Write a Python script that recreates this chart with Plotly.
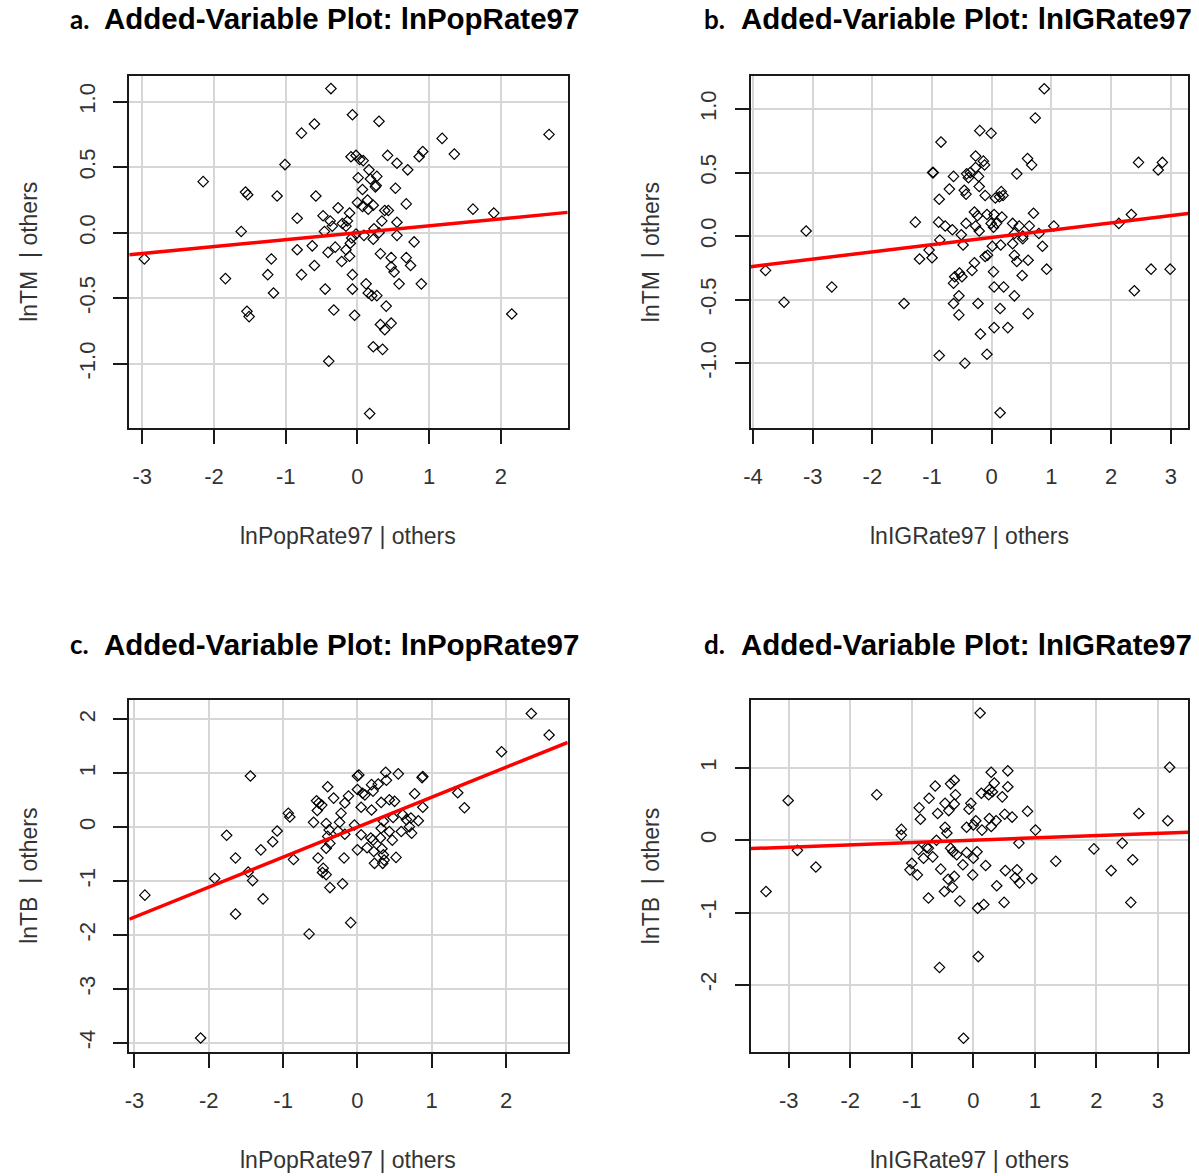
import plotly.graph_objects as go

W, H = 1199, 1176

# ---------------- data ----------------
a_x = [-0.37, -0.07, 0.30, -0.60, -0.78, 1.18, 2.67, 0.91, 0.86, 1.35, 0.42, 0.55, 0.70, -0.09, -0.02, 0.03, 0.08, 0.16,
       0.01, 0.18, 0.27, 0.26, 0.25, 0.07, 0.53, -1.01, -2.15, -1.56, -1.53, -1.12, -0.58, 0.00, 0.14, 0.07, 0.22, 0.15,
       0.68, 0.38, 0.43, 0.34, 0.55, 1.61, 1.90, -0.27, -0.11, -0.84, -0.48, -0.38, -0.35, -0.21, -0.16, -0.14, -0.46,
       -1.62, -0.02, 0.09, 0.23, 0.30, 0.55, 0.22, -0.08, -0.10, 0.79, -0.63, -0.31, -0.84, -0.41, -0.16, -0.11, -0.22,
       0.32, 0.47, 0.68, 0.47, 0.51, 0.74, -2.97, -1.20, -0.60, -0.78, -1.25, -1.84, -0.07, 0.58, 0.89, -1.17, -0.45,
       -0.07, 0.12, 0.15, 0.20, 0.27, 0.40, -1.54, -1.51, -0.33, -0.04, 0.32, 0.38, 0.47, 2.15, 0.22, 0.35, -0.40, 0.17]
a_y = [1.10, 0.90, 0.85, 0.83, 0.76, 0.72, 0.75, 0.62, 0.58, 0.60, 0.59, 0.53, 0.48, 0.58, 0.59, 0.56, 0.55, 0.48,
       0.42, 0.41, 0.43, 0.36, 0.35, 0.33, 0.34, 0.52, 0.39, 0.31, 0.29, 0.28, 0.28, 0.23, 0.25, 0.20, 0.21, 0.18,
       0.22, 0.17, 0.17, 0.09, 0.08, 0.18, 0.15, 0.19, 0.15, 0.11, 0.13, 0.09, 0.05, 0.07, 0.05, 0.09, 0.01,
       0.01, -0.01, -0.02, 0.03, 0.00, -0.02, -0.05, -0.04, -0.08, -0.07, -0.10, -0.11, -0.13, -0.15, -0.13, -0.18, -0.22,
       -0.16, -0.19, -0.19, -0.26, -0.30, -0.25, -0.20, -0.20, -0.25, -0.32, -0.32, -0.35, -0.32, -0.39, -0.39, -0.46, -0.43,
       -0.43, -0.39, -0.46, -0.48, -0.48, -0.56, -0.60, -0.64, -0.59, -0.63, -0.70, -0.74, -0.69, -0.62, -0.87, -0.89, -0.98, -1.38]

b_x = [0.88, 0.73, -0.20, -0.01, -0.85, -0.27, -0.14, -0.12, -0.27, 0.60, 0.67, -0.99, -0.98, -0.64, -0.42, -0.36, -0.39,
       -0.22, 0.42, 2.46, 2.86, 2.79, -0.71, -0.46, -0.43, -0.21, -0.11, 0.06, 0.16, 0.19, 0.13, -0.88, -0.29, -0.24, -0.08,
       0.04, 0.17, 0.70, -1.28, -0.89, -0.78, -0.66, -0.43, -0.27, -0.01, 0.08, 0.03, 0.35, 0.46, 0.63, 1.04, 2.13, 2.34,
       -3.11, -0.51, -0.21, 0.38, 0.52, 0.79, -0.87, -0.48, 0.01, 0.15, 0.35, 0.52, 0.85, -1.05, -1.21, -1.00, -0.11, -0.07,
       0.38, 0.42, 0.61, -0.29, -0.33, -0.62, -0.54, -0.50, -0.64, 0.03, 0.51, 0.92, 2.67, 2.99, -3.79, -2.68, -3.48, -1.47,
       -0.55, -0.64, -0.55, 0.04, 0.20, 0.38, -0.23, 0.14, 0.61, 2.39, 0.04, 0.27, -0.19, -0.88, -0.08, -0.45, 0.14]
b_y = [1.16, 0.93, 0.83, 0.81, 0.74, 0.63, 0.59, 0.56, 0.54, 0.61, 0.56, 0.50, 0.50, 0.47, 0.49, 0.50, 0.46,
       0.47, 0.49, 0.58, 0.58, 0.52, 0.37, 0.36, 0.33, 0.39, 0.32, 0.30, 0.35, 0.32, 0.31, 0.29, 0.19, 0.16, 0.17,
       0.17, 0.15, 0.18, 0.11, 0.11, 0.08, 0.05, 0.10, 0.08, 0.10, 0.10, 0.07, 0.10, 0.08, 0.08, 0.08, 0.10, 0.17,
       0.04, 0.01, 0.04, 0.02, 0.00, 0.02, -0.03, -0.07, -0.08, -0.07, -0.06, -0.02, -0.08, -0.11, -0.18, -0.17, -0.16, -0.15,
       -0.15, -0.20, -0.19, -0.21, -0.27, -0.32, -0.29, -0.32, -0.37, -0.28, -0.31, -0.26, -0.26, -0.26, -0.27, -0.40, -0.52, -0.53,
       -0.47, -0.53, -0.62, -0.40, -0.40, -0.47, -0.53, -0.57, -0.61, -0.43, -0.72, -0.72, -0.77, -0.94, -0.93, -1.00, -1.39]

c_x = [2.34, 2.58, 1.94, -1.44, 0.00, 0.02, 0.38, 0.55, 0.88, 0.87, -0.40, 0.00, 0.19, 0.28, 0.39, 0.07, 0.10, 0.21,
       -0.12, -0.32, -0.55, -0.48, -0.54, -0.17, 0.05, 0.19, 0.32, 0.43, 0.50, 0.77, 0.88, 1.35, 1.44, -0.93, -0.91,
       -0.22, -0.59, -0.42, -0.24, -0.04, 0.35, 0.48, 0.61, 0.66, 0.72, 0.82, 0.70, 0.59, 0.73, 0.32, 0.43, 0.05, 0.18,
       0.21, 0.31, 0.47, -0.38, -0.26, -0.17, -0.40, -1.08, -1.76, -1.14, -0.42, 0.00, 0.13, 0.22, 0.33, 0.35, -1.30,
       -1.64, -0.86, -0.53, -0.18, 0.52, 0.23, 0.34, 0.36, -0.46, -0.47, -0.42, -1.47, -1.92, -1.41, -0.37, -0.20, -2.86,
       -1.27, -1.64, -0.09, -0.65, -2.11, -0.52, -0.37]
c_y = [2.11, 1.71, 1.40, 0.95, 0.95, 0.97, 1.02, 0.99, 0.94, 0.92, 0.75, 0.70, 0.79, 0.80, 0.87, 0.63, 0.60, 0.67,
       0.58, 0.54, 0.49, 0.41, 0.31, 0.45, 0.37, 0.32, 0.46, 0.51, 0.48, 0.62, 0.37, 0.64, 0.36, 0.26, 0.19,
       0.26, 0.09, 0.07, 0.09, 0.04, 0.11, 0.18, 0.23, 0.14, 0.17, 0.12, 0.01, -0.08, -0.11, -0.02, -0.08, -0.14, -0.20,
       -0.24, -0.20, -0.24, -0.05, -0.07, -0.13, -0.17, -0.07, -0.15, -0.27, -0.39, -0.42, -0.38, -0.45, -0.40, -0.51, -0.42,
       -0.57, -0.60, -0.57, -0.57, -0.56, -0.67, -0.67, -0.61, -0.76, -0.84, -0.88, -0.83, -0.95, -0.99, -1.12, -1.05, -1.26,
       -1.33, -1.61, -1.77, -1.98, -3.91, 0.45, -0.30]

d_x = [0.11, 3.19, 0.56, 0.29, -3.01, -1.57, -0.62, -0.31, -0.37, 0.34, 0.56, 0.26, 0.31, 0.25, 0.13, 0.47, -0.29,
       -0.72, -0.46, -0.31, -0.04, -0.88, -0.58, -0.40, -0.07, 0.88, -0.86, 0.04, 0.26, 0.37, 0.51, 0.63, 2.69, 3.16,
       -1.17, -1.17, -0.46, -0.43, -0.11, 0.00, 0.14, 0.29, 1.01, -0.60, -0.73, -0.89, -0.66, -0.37, -0.33, -0.27, -0.11,
       0.06, 0.00, 0.74, -2.86, -2.56, -3.37, -1.00, -1.03, -0.91, -0.17, 0.20, -0.53, -0.01, 0.52, 0.71, 0.68, 0.75, 0.95,
       1.34, 1.96, 2.42, 2.59, 2.24, 2.56, -0.41, -0.31, -0.34, -0.47, 0.38, -0.73, -0.22, 0.07, 0.17, 0.50, 0.08, -0.55,
       -0.16, -0.76, -0.81]
d_y = [1.76, 1.01, 0.96, 0.94, 0.55, 0.63, 0.75, 0.83, 0.78, 0.79, 0.74, 0.70, 0.67, 0.63, 0.65, 0.60, 0.63,
       0.58, 0.51, 0.50, 0.51, 0.45, 0.37, 0.41, 0.43, 0.40, 0.29, 0.27, 0.30, 0.27, 0.36, 0.32, 0.37, 0.27,
       0.15, 0.07, 0.18, 0.10, 0.18, 0.21, 0.14, 0.19, 0.14, 0.00, -0.11, -0.13, -0.23, -0.11, -0.16, -0.20, -0.17,
       -0.16, -0.25, -0.04, -0.14, -0.37, -0.71, -0.32, -0.41, -0.48, -0.34, -0.35, -0.40, -0.48, -0.42, -0.41, -0.52, -0.59, -0.53,
       -0.29, -0.12, -0.04, -0.27, -0.42, -0.86, -0.54, -0.50, -0.65, -0.71, -0.63, -0.80, -0.84, -0.94, -0.89, -0.86, -1.61, -1.76,
       -2.74, -0.10, -0.25]

# fitted added-variable lines (slope, intercept)
a_fit = (0.053, 0.0)
b_fit = (0.057, -0.01)
c_fit = (0.556, 0.0)
d_fit = (0.032, 0.0)

letters = ["a.", "b.", "c.", "d."]
titles = ["Added-Variable Plot: lnPopRate97", "Added-Variable Plot: lnIGRate97",
          "Added-Variable Plot: lnPopRate97", "Added-Variable Plot: lnIGRate97"]
xlabels = ["lnPopRate97 | others", "lnIGRate97 | others", "lnPopRate97 | others", "lnIGRate97 | others"]
ylabels = ["lnTM  | others", "lnTM  | others", "lnTB  | others", "lnTB  | others"]

a_xticks = [-3, -2, -1, 0, 1, 2]
b_xticks = [-4, -3, -2, -1, 0, 1, 2, 3]
c_xticks = [-3, -2, -1, 0, 1, 2]
d_xticks = [-3, -2, -1, 0, 1, 2, 3]
ab_yticks = [-1.0, -0.5, 0.0, 0.5, 1.0]
ab_yticklabels = ["-1.0", "-0.5", "0.0", "0.5", "1.0"]
c_yticks = [-4, -3, -2, -1, 0, 1, 2]
d_yticks = [-2, -1, 0, 1]

# ---------------- layout geometry (pixels) ----------------
boxes = [  # left, right, top, bottom
    (123, 564, 76, 428),
    (748, 1188, 76, 428),
    (123, 564, 700, 1052),
    (748, 1188, 700, 1052),
]
xranges = [[-3.18, 2.93], [-4.04, 3.29], [-3.07, 2.83], [-3.62, 3.49]]
yranges = [[-1.49, 1.196], [-1.51, 1.26], [-4.17, 2.36], [-2.93, 1.94]]

panels = [
    (a_x, a_y, a_fit, a_xticks, ab_yticks, ab_yticklabels),
    (b_x, b_y, b_fit, b_xticks, ab_yticks, ab_yticklabels),
    (c_x, c_y, c_fit, c_xticks, c_yticks, [str(v) for v in c_yticks]),
    (d_x, d_y, d_fit, d_xticks, d_yticks, [str(v) for v in d_yticks]),
]

FONT = "Liberation Sans, Arial, sans-serif"
fig = go.Figure()
layout = {}
annotations = []

for i, (px, py, fit, xt, yt, ytl) in enumerate(panels):
    n = "" if i == 0 else str(i + 1)
    xa, ya = "x" + n, "y" + n
    l, r, t, b = boxes[i]
    fig.add_trace(go.Scatter(
        x=px, y=py, mode="markers", xaxis=xa, yaxis=ya, showlegend=False,
        marker=dict(symbol="diamond-open", size=8, color="black", line=dict(width=1.2, color="black")),
    ))
    slope, icpt = fit
    lx = xranges[i]
    fig.add_trace(go.Scatter(
        x=lx, y=[icpt + slope * v for v in lx], mode="lines", xaxis=xa, yaxis=ya,
        showlegend=False, line=dict(color="#ff0000", width=3.5),
    ))
    common = dict(
        showgrid=True, gridcolor="#d6d6d6", gridwidth=1.6, zeroline=False,
        showline=True, linecolor="#1a1a1a", linewidth=1.6, mirror=True,
        ticks="outside", ticklen=14, tickwidth=1.6, tickcolor="#1a1a1a",
        tickfont=dict(family=FONT, size=22, color="#333333"),
    )
    layout["xaxis" + n] = dict(
        domain=[l / W, r / W], anchor=ya, range=xranges[i],
        tickmode="array", tickvals=xt, ticktext=[str(v) for v in xt],
        ticklabelstandoff=14, **common,
    )
    layout["yaxis" + n] = dict(
        domain=[1 - b / H, 1 - t / H], anchor=xa, range=yranges[i],
        tickmode="array", tickvals=yt, ticktext=ytl, tickangle=-90,
        ticklabelstandoff=10, **common,
    )
    # titles
    ty = 19 if i < 2 else 644
    lx_letter = 61 if i % 2 == 0 else 699
    lx_title = 96 if i % 2 == 0 else 736
    annotations.append(dict(
        text="<b>" + letters[i] + "</b>", x=lx_letter / W, y=1 - ty / H, xref="paper", yref="paper",
        xanchor="left", yanchor="middle", showarrow=False,
        font=dict(family="Lato, Open Sans, sans-serif", size=26, color="black"),
    ))
    annotations.append(dict(
        text="<b>" + titles[i] + "</b>", x=lx_title / W, y=1 - ty / H, xref="paper", yref="paper",
        xanchor="left", yanchor="middle", showarrow=False,
        font=dict(family=FONT, size=29.5, color="black"),
    ))
    # x label
    xl_y = 536 if i < 2 else 1160
    annotations.append(dict(
        text=xlabels[i], x=((l + r) / 2) / W, y=1 - xl_y / H, xref="paper", yref="paper",
        xanchor="center", yanchor="middle", showarrow=False,
        font=dict(family=FONT, size=23, color="#333333"),
    ))
    # y label
    yl_x = 22 if i % 2 == 0 else 648
    annotations.append(dict(
        text=ylabels[i].replace("  ", "&nbsp; "), x=yl_x / W, y=1 - ((t + b) / 2) / H, xref="paper", yref="paper",
        xanchor="center", yanchor="middle", showarrow=False, textangle=-90,
        font=dict(family=FONT, size=23, color="#333333"),
    ))

fig.update_layout(
    width=W, height=H, margin=dict(l=0, r=0, t=0, b=0),
    paper_bgcolor="white", plot_bgcolor="white",
    annotations=annotations, **layout,
)
fig.write_html(
    "out.html",
    config={"displayModeBar": False},
    post_script="document.body.style.margin='0';document.body.style.overflow='hidden';"
                "document.documentElement.style.overflow='hidden';",
)
